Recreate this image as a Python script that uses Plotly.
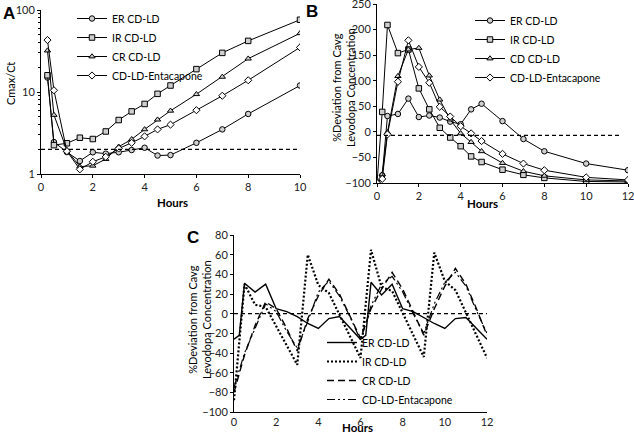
import plotly.graph_objects as go

# Panel A: Cmax/Ct (log scale)
hours_a = [0.25, 0.5, 1, 1.5, 2, 2.5, 3, 3.5, 4, 4.5, 5, 6, 7, 8, 10]
er_a = [15, 2.45, 1.85, 1.44, 1.84, 1.77, 1.84, 1.96, 2.09, 1.68, 1.7, 2.4, 3.5, 5.4, 12]
ir_a = [16, 2.25, 2.37, 2.77, 2.67, 3.3, 4.55, 5.8, 7.15, 9.5, 12, 19, 30, 42, 76]
cr_a = [32, 5.25, 1.95, 1.23, 1.26, 1.52, 2.15, 2.65, 3.5, 4.6, 5.9, 9.4, 15.3, 25.5, 52]
ent_a = [43, 10.5, 1.9, 1.14, 1.41, 1.62, 2.05, 2.4, 2.88, 3.5, 4.0, 6.0, 9.0, 13.9, 35]
ref_a_x = [0, 10]
ref_a_y = [2, 2]

# Panel B: % deviation from Cavg, single dose
hours_b = [0, 0.25, 0.5, 1, 1.5, 2, 2.5, 3, 3.5, 4, 4.5, 5, 6, 7, 8, 10, 12]
er_b = [-100, -85, 31, 35, 65, 29, 32, 28, 20, 15, 44, 55, 21, -14, -38, -62, -75]
ir_b = [-100, 39, 209, 154, 161, 85, 44, 8, -11, -28, -48, -59, -74, -84, -90, -97, -98]
cr_b = [-100, -83, -1, 109, 161, 164, 110, 63, 24, -3, -20, -38, -61, -77, -86, -94, -96]
ent_b = [-100, -92, -5, 98, 179, 127, 96, 49, 30, 11, -3, -18, -43, -62, -75, -89, -94]
ref_b_x = [0, 11.7]
ref_b_y = [-7, -7]

# Panel C: % deviation from Cavg, repeated dosing
hours_c_er = [0, 0.25, 0.5, 1, 1.5, 2, 2.5, 3, 3.5, 4, 4.5, 5, 6,
              6.25, 6.5, 7, 7.5, 8, 8.5, 9, 9.5, 10, 10.5, 11, 12]
er_c = [-26, -22, 31, 22, 30, 5, 2, -3, -10, -15, -5, -3, -26,
        -22, 32, 19, 30, 5, 2, -4, -10, -15, -5, -4, -26]
hours_c_ir = [0, 0.5, 1, 1.5, 3, 3.5, 4, 4.5, 6, 6.5, 7, 7.5, 9, 9.5, 10, 10.5, 12]
ir_c = [-88, 30, 9, 7, -52, 60, 29, 21, -45, 65, 27, 23, -44, 62, 33, 24, -45]
hours_c = [0, 0.5, 1, 1.5, 2, 2.5, 3, 3.5, 4, 4.5, 5, 5.5, 6,
           6.5, 7, 7.5, 8, 8.5, 9, 9.5, 10, 10.5, 11, 11.5, 12]
cr_c = [-80, -42, -12, 12, 5, -15, -38, -5, 18, 35, 20, -2, -25,
        5, 25, 42, 25, 2, -22, 5, 28, 46, 30, 5, -22]
ent_c = [-75, -40, -15, 10, 2, -18, -35, -8, 22, 33, 18, -3, -27,
         8, 30, 38, 22, 0, -20, 10, 32, 42, 28, 3, -20]
ref_c_x = [0, 12]
ref_c_y = [0, 0]

names_ab = ["ER CD-LD", "IR CD-LD", "CR CD-LD", "CD-LD-Entacapone"]
names_b = ["ER CD-LD", "IR CD-LD", "CD CD-LD", "CD-LD-Entacapone"]
symbols = ["circle", "square", "triangle-up", "diamond"]
fills = ["#cfcfcf", "#cfcfcf", "#cfcfcf", "white"]

W, H = 634, 434
def px_x(p):
    return p / W
def px_y(p):
    return 1 - p / H

fig = go.Figure()

# panel A
for name, ys, sym, fc in zip(names_ab, [er_a, ir_a, cr_a, ent_a], symbols, fills):
    fig.add_trace(go.Scatter(x=hours_a, y=ys, name=name, mode="lines+markers",
                             line=dict(color="black", width=1),
                             marker=dict(symbol=sym, size=5.5, color=fc,
                                         line=dict(color="black", width=1)),
                             xaxis="x", yaxis="y", legend="legend"))
fig.add_trace(go.Scatter(x=ref_a_x, y=ref_a_y, mode="lines", showlegend=False,
                         line=dict(color="black", width=1.2, dash="4px,3px"),
                         xaxis="x", yaxis="y"))

# panel B
for name, ys, sym, fc in zip(names_b, [er_b, ir_b, cr_b, ent_b], symbols, fills):
    fig.add_trace(go.Scatter(x=hours_b, y=ys, name=name, mode="lines+markers",
                             line=dict(color="black", width=1),
                             marker=dict(symbol=sym, size=5.5, color=fc,
                                         line=dict(color="black", width=1)),
                             xaxis="x2", yaxis="y2", legend="legend2"))
fig.add_trace(go.Scatter(x=ref_b_x, y=ref_b_y, mode="lines", showlegend=False,
                         line=dict(color="black", width=1.2, dash="4px,3px"),
                         xaxis="x2", yaxis="y2"))

# panel C
c_series = [
    (hours_c_er, er_c, "ER CD-LD", dict(color="black", width=1.4)),
    (hours_c_ir, ir_c, "IR CD-LD", dict(color="black", width=2.2, dash="2px,2px")),
    (hours_c, cr_c, "CR CD-LD", dict(color="black", width=1.4, dash="7px,4px")),
    (hours_c, ent_c, "CD-LD-Entacapone", dict(color="black", width=1.2, dash="8px,3px,2px,3px,2px,3px")),
]
for xs, ys, name, ln in c_series:
    fig.add_trace(go.Scatter(x=xs, y=ys, name=name, mode="lines", line=ln,
                             xaxis="x3", yaxis="y3", legend="legend3"))
fig.add_trace(go.Scatter(x=ref_c_x, y=ref_c_y, mode="lines", showlegend=False,
                         line=dict(color="black", width=1.2, dash="4px,3px"),
                         xaxis="x3", yaxis="y3"))

axis_common = dict(showline=True, linecolor="black", linewidth=1, showgrid=False,
                   zeroline=False, ticks="outside", ticklen=3, tickcolor="black",
                   automargin=False, ticklabeloverflow="allow",
                   tickfont=dict(size=11, color="#222"))

fig.update_layout(
    width=W, height=H, margin=dict(l=0, r=0, t=0, b=0),
    paper_bgcolor="white", plot_bgcolor="white",
    font=dict(family="Lato, Open Sans, sans-serif", color="black"),
    xaxis=dict(domain=[px_x(41), px_x(300)], range=[0, 10], tickvals=[0, 2, 4, 6, 8, 10],
               anchor="y", **axis_common),
    yaxis=dict(domain=[px_y(174), px_y(10)], type="log", range=[0, 2],
               tickmode="linear", tick0=0, dtick=1, anchor="x",
               minor=dict(ticks="outside", ticklen=2, dtick="D1", tickcolor="black"),
               **axis_common),
    xaxis2=dict(domain=[px_x(377), px_x(628)], range=[0, 12], dtick=2,
                anchor="y2", **axis_common),
    yaxis2=dict(domain=[px_y(183), px_y(4)], range=[-100, 250], dtick=50,
                anchor="x2", **axis_common),
    xaxis3=dict(domain=[px_x(234), px_x(487)], range=[0, 12], dtick=2,
                anchor="y3", **axis_common),
    yaxis3=dict(domain=[px_y(412), px_y(235)], range=[-100, 80], dtick=20,
                anchor="x3", **axis_common),
    legend=dict(x=px_x(72), y=px_y(4), xanchor="left", yanchor="top",
                bgcolor="rgba(0,0,0,0)", itemwidth=30, font=dict(size=10.5)),
    legend2=dict(x=px_x(470), y=px_y(6), xanchor="left", yanchor="top",
                 bgcolor="rgba(0,0,0,0)", itemwidth=30, font=dict(size=10.5)),
    legend3=dict(x=px_x(322), y=px_y(414), xanchor="left", yanchor="bottom",
                 bgcolor="rgba(0,0,0,0)", itemwidth=30, font=dict(size=10.5)),
)
fig.update_xaxes(ticks="", selector=dict(anchor="y3"))

ann = []
# panel letters
for txt, x, y in [("A", 9, 14), ("B", 312, 12), ("C", 193, 237)]:
    ann.append(dict(text="<b>%s</b>" % txt, x=px_x(x), y=px_y(y)))
    ann[-1]["font"] = dict(size=17, family="Liberation Sans, Arial")
# x titles
for x, y in [(172, 202), (482, 203), (357, 427)]:
    ann.append(dict(text="<b>Hours</b>", x=px_x(x), y=px_y(y), font=dict(size=11.5)))
# y titles
ann.append(dict(text="Cmax/Ct", x=px_x(10), y=px_y(84), textangle=-90, font=dict(size=11)))
ann.append(dict(text="%Deviation from Cavg<br>Levodopa Concentration", x=px_x(343), y=px_y(88),
                textangle=-90, font=dict(size=11)))
ann.append(dict(text="%Deviation from Cavg<br>Levodopa Concentration", x=px_x(199), y=px_y(320),
                textangle=-90, font=dict(size=11)))
for a in ann:
    a.update(xref="paper", yref="paper", showarrow=False, xanchor="center", yanchor="middle")
fig.update_layout(annotations=ann)

# drop the browser's default page margin so the figure sits at the window corner
fig.write_html("out.html", config={"displayModeBar": False},
               post_script="document.body.style.margin='0';")
